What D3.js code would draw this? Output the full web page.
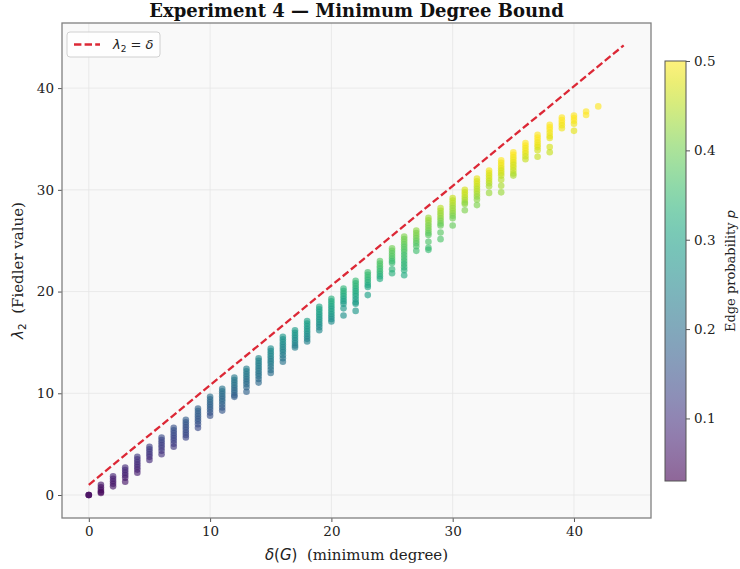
<!DOCTYPE html>
<html>
<head>
<meta charset="utf-8">
<script src="https://cdn.jsdelivr.net/npm/d3@7"></script>
<style>
  body { margin: 0; background: #fff; }
  text { font-family: "DejaVu Serif", serif; }
  .math { font-family: "DejaVu Sans", sans-serif; font-style: italic; }
</style>
</head>
<body>
<div id="chart"></div>
<script>
// minimum degree of each column
const minDegree = [0, 1, 2, 3, 4, 5, 6, 7, 8, 9, 10, 11, 12, 13, 14, 15, 16, 17, 18, 19, 20,
  21, 22, 23, 24, 25, 26, 27, 28, 29, 30, 31, 32, 33, 34, 35, 36, 37, 38, 39, 40, 41, 42];

// lambda_2 values per column
const fiedler = [
  [0, 0, 0],
  [1.0, 0.75, 0.5, 0.3, 0.2],
  [1.85, 1.6, 1.35, 1.1, 0.85],
  [2.7, 2.45, 2.2, 1.95, 1.7, 1.3],
  [3.75, 3.5, 3.25, 3.0, 2.75, 2.5, 2.2],
  [4.75, 4.5, 4.25, 4.0, 3.75, 3.45],
  [5.65, 5.4, 5.15, 4.9, 4.65, 4.35, 4.0],
  [6.6, 6.35, 6.1, 5.85, 5.6, 5.35, 5.05, 4.75],
  [7.4, 7.15, 6.9, 6.65, 6.4, 6.15, 5.9, 5.65],
  [8.5, 8.25, 8.0, 7.75, 7.5, 7.25, 6.95, 6.6],
  [9.65, 9.4, 9.15, 8.9, 8.65, 8.4, 8.1, 7.8],
  [10.45, 10.2, 9.95, 9.7, 9.45, 9.2, 8.9, 8.6, 8.3],
  [11.55, 11.3, 11.05, 10.8, 10.55, 10.3, 10.05, 9.8, 9.65],
  [12.4, 12.15, 11.9, 11.65, 11.4, 11.15, 10.9, 10.6, 10.15],
  [13.45, 13.2, 12.95, 12.7, 12.45, 12.2, 11.95, 11.7, 11.4, 11.05],
  [14.4, 14.15, 13.9, 13.65, 13.4, 13.15, 12.9, 12.6, 12.3, 12.0],
  [15.55, 15.3, 15.05, 14.8, 14.55, 14.3, 14.05, 13.75, 13.45, 13.1],
  [16.2, 15.95, 15.7, 15.45, 15.2, 14.95, 14.7, 14.5],
  [17.1, 16.85, 16.6, 16.35, 16.1, 15.85, 15.6, 15.35, 15.1],
  [18.5, 18.25, 18.0, 17.75, 17.5, 17.25, 17.0, 16.75, 16.5, 16.2],
  [19.3, 19.05, 18.8, 18.55, 18.3, 18.05, 17.8, 17.55, 17.3, 17.05],
  [20.3, 20.05, 19.8, 19.55, 19.3, 19.05, 18.8, 18.35, 17.65],
  [21.05, 20.8, 20.55, 20.3, 20.05, 19.8, 19.55, 19.25, 18.95, 18.8, 18.1],
  [21.9, 21.65, 21.4, 21.15, 20.9, 20.65, 20.45, 19.65],
  [23.0, 22.75, 22.5, 22.25, 22.0, 21.75, 21.5, 21.25],
  [24.25, 24.0, 23.75, 23.5, 23.25, 23.0, 22.8, 22.2, 21.8],
  [25.4, 25.15, 24.9, 24.65, 24.4, 24.15, 23.9, 23.6, 23.3, 23.0, 22.7, 22.4, 22.1, 21.6],
  [26.0, 25.75, 25.5, 25.25, 25.0, 24.75, 24.45, 24.0],
  [27.25, 27.0, 26.75, 26.5, 26.25, 26.0, 25.75, 25.55, 24.9, 24.3, 24.1],
  [28.2, 27.95, 27.7, 27.45, 27.2, 26.95, 26.7, 26.5, 25.8, 25.15],
  [29.2, 28.95, 28.7, 28.45, 28.2, 27.95, 27.7, 27.45, 27.2, 26.5],
  [30.0, 29.75, 29.5, 29.25, 29.0, 28.75, 28.6, 28.0],
  [31.1, 30.85, 30.6, 30.35, 30.1, 29.85, 29.6, 29.35, 29.05, 28.5],
  [31.9, 31.65, 31.4, 31.15, 30.9, 30.65, 30.35, 29.7],
  [32.9, 32.65, 32.4, 32.15, 31.9, 31.65, 31.4, 31.0, 30.4, 29.75],
  [33.7, 33.45, 33.2, 32.95, 32.7, 32.45, 32.2, 31.9, 31.6, 31.4],
  [34.6, 34.35, 34.1, 33.85, 33.6, 33.3, 33.0],
  [35.4, 35.15, 34.9, 34.65, 34.4, 34.2, 33.9, 33.25],
  [36.4, 36.15, 35.9, 35.6, 35.3, 35.1, 34.2, 33.7],
  [37.1, 36.85, 36.6, 36.35, 36.05],
  [37.3, 37.05, 36.8, 36.5, 35.8],
  [37.7, 37.35],
  [38.2]
];

// edge probability p per point (same shape as fiedler)
const edgeProb = [
  [0.03, 0.04, 0.05],
  [0.06, 0.05, 0.05, 0.04, 0.04],
  [0.08, 0.07, 0.07, 0.06, 0.06],
  [0.09, 0.09, 0.08, 0.08, 0.07, 0.06],
  [0.11, 0.10, 0.10, 0.09, 0.09, 0.08, 0.07],
  [0.12, 0.12, 0.11, 0.11, 0.10, 0.09],
  [0.14, 0.13, 0.13, 0.12, 0.12, 0.11, 0.10],
  [0.15, 0.15, 0.14, 0.14, 0.13, 0.13, 0.12, 0.11],
  [0.17, 0.16, 0.16, 0.15, 0.15, 0.14, 0.14, 0.13],
  [0.18, 0.18, 0.17, 0.17, 0.16, 0.16, 0.15, 0.14],
  [0.20, 0.19, 0.19, 0.18, 0.18, 0.17, 0.16, 0.15],
  [0.21, 0.21, 0.20, 0.20, 0.19, 0.19, 0.18, 0.17, 0.16],
  [0.22, 0.22, 0.21, 0.21, 0.20, 0.19, 0.19, 0.18, 0.17],
  [0.23, 0.23, 0.22, 0.22, 0.21, 0.20, 0.20, 0.19, 0.18],
  [0.25, 0.24, 0.24, 0.23, 0.23, 0.22, 0.21, 0.21, 0.20, 0.19],
  [0.26, 0.26, 0.25, 0.25, 0.24, 0.23, 0.23, 0.22, 0.21, 0.20],
  [0.28, 0.27, 0.27, 0.26, 0.25, 0.25, 0.24, 0.23, 0.22, 0.21],
  [0.29, 0.28, 0.28, 0.27, 0.26, 0.25, 0.24, 0.23],
  [0.30, 0.30, 0.29, 0.28, 0.28, 0.27, 0.26, 0.25, 0.24],
  [0.31, 0.31, 0.30, 0.30, 0.29, 0.28, 0.28, 0.27, 0.26, 0.25],
  [0.33, 0.32, 0.32, 0.31, 0.30, 0.30, 0.29, 0.28, 0.27, 0.26],
  [0.34, 0.33, 0.33, 0.32, 0.31, 0.30, 0.29, 0.28, 0.27],
  [0.35, 0.34, 0.34, 0.33, 0.32, 0.32, 0.31, 0.30, 0.29, 0.29, 0.28],
  [0.36, 0.35, 0.35, 0.34, 0.33, 0.32, 0.31, 0.30],
  [0.38, 0.37, 0.37, 0.36, 0.35, 0.34, 0.33, 0.32],
  [0.40, 0.39, 0.38, 0.38, 0.37, 0.36, 0.35, 0.34, 0.33],
  [0.41, 0.40, 0.40, 0.39, 0.38, 0.38, 0.37, 0.36, 0.36, 0.35, 0.34, 0.34, 0.33, 0.32],
  [0.42, 0.41, 0.41, 0.40, 0.39, 0.38, 0.37, 0.36],
  [0.43, 0.43, 0.42, 0.41, 0.41, 0.40, 0.39, 0.38, 0.37, 0.36, 0.35],
  [0.45, 0.44, 0.43, 0.43, 0.42, 0.41, 0.40, 0.39, 0.38, 0.37],
  [0.46, 0.45, 0.45, 0.44, 0.43, 0.43, 0.42, 0.41, 0.40, 0.39],
  [0.47, 0.46, 0.46, 0.45, 0.44, 0.43, 0.42, 0.41],
  [0.48, 0.47, 0.47, 0.46, 0.45, 0.45, 0.44, 0.43, 0.42, 0.41],
  [0.49, 0.48, 0.47, 0.47, 0.46, 0.45, 0.44, 0.43],
  [0.50, 0.49, 0.49, 0.48, 0.47, 0.47, 0.46, 0.45, 0.44, 0.43],
  [0.50, 0.50, 0.49, 0.49, 0.48, 0.47, 0.47, 0.46, 0.45, 0.44],
  [0.50, 0.50, 0.49, 0.49, 0.48, 0.47, 0.46],
  [0.50, 0.50, 0.50, 0.49, 0.49, 0.48, 0.47, 0.46],
  [0.50, 0.50, 0.50, 0.49, 0.49, 0.48, 0.47, 0.46],
  [0.50, 0.50, 0.50, 0.49, 0.49],
  [0.50, 0.50, 0.50, 0.49, 0.48],
  [0.50, 0.50],
  [0.50]
];

// dashed reference line (endpoints as drawn)
const boundX = [0, 44.1];
const boundY = [1.0, 44.2];

const xTicks = [0, 10, 20, 30, 40];
const yTicks = [0, 10, 20, 30, 40];
const cbTicks = [0.1, 0.2, 0.3, 0.4, 0.5];
const pRange = [0.03, 0.5];

const width = 740, height = 569;
const plot = { left: 62, right: 651, top: 23, bottom: 518 };
const alpha = 0.6;

const svg = d3.select("#chart").append("svg")
  .attr("width", width)
  .attr("height", height);

const x = d3.scaleLinear().domain([-2.21, 46.35]).range([plot.left, plot.right]);
const y = d3.scaleLinear().domain([-2.26, 46.4]).range([plot.bottom, plot.top]);
const color = d3.scaleSequential(d3.interpolateViridis).domain(pRange);

// background
svg.append("rect")
  .attr("x", plot.left).attr("y", plot.top)
  .attr("width", plot.right - plot.left).attr("height", plot.bottom - plot.top)
  .attr("fill", "#f9f9f9");

// grid
svg.append("g").selectAll("line").data(xTicks).join("line")
  .attr("x1", d => x(d)).attr("x2", d => x(d))
  .attr("y1", plot.top).attr("y2", plot.bottom)
  .attr("stroke", "#e6e6e6").attr("stroke-width", 0.8);
svg.append("g").selectAll("line").data(yTicks).join("line")
  .attr("y1", d => y(d)).attr("y2", d => y(d))
  .attr("x1", plot.left).attr("x2", plot.right)
  .attr("stroke", "#e6e6e6").attr("stroke-width", 0.8);

// points
const points = [];
minDegree.forEach((d, i) => {
  fiedler[i].forEach((v, j) => points.push({ delta: d, lam: v, p: edgeProb[i][j] }));
});

svg.append("g").selectAll("circle").data(points).join("circle")
  .attr("cx", d => x(d.delta))
  .attr("cy", d => y(d.lam))
  .attr("r", 3.3)
  .attr("fill", d => color(d.p))
  .attr("fill-opacity", 0.65);

// bound line
svg.append("line")
  .attr("x1", x(boundX[0])).attr("y1", y(boundY[0]))
  .attr("x2", x(boundX[1])).attr("y2", y(boundY[1]))
  .attr("stroke", "#dc2836")
  .attr("stroke-width", 2.3)
  .attr("stroke-dasharray", "7.4 3.2");

// axes
const xAxis = svg.append("g")
  .attr("transform", `translate(0,${plot.bottom})`)
  .call(d3.axisBottom(x).tickValues(xTicks).tickSize(4).tickPadding(4));
const yAxis = svg.append("g")
  .attr("transform", `translate(${plot.left},0)`)
  .call(d3.axisLeft(y).tickValues(yTicks).tickSize(4).tickPadding(4));
[xAxis, yAxis].forEach(a => {
  a.select(".domain").remove();
  a.selectAll(".tick line").attr("stroke", "#555");
  a.selectAll(".tick text")
    .attr("font-family", "DejaVu Serif")
    .attr("font-size", 13.5)
    .attr("fill", "#222");
});

// frame
svg.append("rect")
  .attr("x", plot.left).attr("y", plot.top)
  .attr("width", plot.right - plot.left).attr("height", plot.bottom - plot.top)
  .attr("fill", "none")
  .attr("stroke", "#808080")
  .attr("stroke-width", 1.3);

// title
svg.append("text")
  .attr("x", (plot.left + plot.right) / 2)
  .attr("y", 17)
  .attr("text-anchor", "middle")
  .attr("font-size", 18)
  .attr("font-weight", "bold")
  .attr("fill", "#111")
  .text("Experiment 4 — Minimum Degree Bound");

// x label
const xl = svg.append("text")
  .attr("x", (plot.left + plot.right) / 2)
  .attr("y", 560)
  .attr("text-anchor", "middle")
  .attr("font-size", 15)
  .attr("fill", "#222");
xl.append("tspan").attr("class", "math").text("δ");
xl.append("tspan").attr("font-family", "DejaVu Sans").text("(");
xl.append("tspan").attr("class", "math").text("G");
xl.append("tspan").attr("font-family", "DejaVu Sans").text(")");
xl.append("tspan").text("\u00a0\u00a0(minimum degree)");

// y label
const yl = svg.append("text")
  .attr("transform", `translate(23,${(plot.top + plot.bottom) / 2}) rotate(-90)`)
  .attr("text-anchor", "middle")
  .attr("font-size", 15)
  .attr("fill", "#222");
yl.append("tspan").attr("class", "math").text("λ");
yl.append("tspan").attr("font-family", "DejaVu Sans").attr("font-size", 10.5).attr("dy", 3).text("2");
yl.append("tspan").attr("dy", -3).text("\u00a0\u00a0(Fiedler value)");

// legend
const legend = svg.append("g").attr("transform", "translate(67,32)");
legend.append("rect")
  .attr("width", 93).attr("height", 25).attr("rx", 3)
  .attr("fill", "#fff").attr("fill-opacity", 0.85)
  .attr("stroke", "#d0d0d0");
legend.append("line")
  .attr("x1", 7).attr("x2", 33).attr("y1", 12.5).attr("y2", 12.5)
  .attr("stroke", "#dc2836").attr("stroke-width", 2.3)
  .attr("stroke-dasharray", "7.4 3.2");
const lt = legend.append("text")
  .attr("x", 46).attr("y", 17)
  .attr("font-size", 13)
  .attr("fill", "#222");
lt.append("tspan").attr("class", "math").text("λ");
lt.append("tspan").attr("font-family", "DejaVu Sans").attr("font-size", 9).attr("dy", 3).text("2");
lt.append("tspan").attr("font-family", "DejaVu Sans").attr("dy", -3).text(" = ");
lt.append("tspan").attr("class", "math").text("δ");

// colorbar
const cb = { x: 665, w: 21, top: 61, bottom: 481 };
const cy = d3.scaleLinear().domain(pRange).range([cb.bottom, cb.top]);
const defs = svg.append("defs");
const grad = defs.append("linearGradient")
  .attr("id", "cbgrad")
  .attr("x1", 0).attr("y1", 1).attr("x2", 0).attr("y2", 0);
d3.range(0, 1.0001, 0.05).forEach(t => {
  grad.append("stop")
    .attr("offset", t)
    .attr("stop-color", d3.interpolateViridis(t));
});
svg.append("rect")
  .attr("x", cb.x).attr("y", cb.top)
  .attr("width", cb.w).attr("height", cb.bottom - cb.top)
  .attr("fill", "url(#cbgrad)")
  .attr("fill-opacity", alpha);
svg.append("rect")
  .attr("x", cb.x).attr("y", cb.top)
  .attr("width", cb.w).attr("height", cb.bottom - cb.top)
  .attr("fill", "none")
  .attr("stroke", "#555").attr("stroke-width", 1);
const cbAxis = svg.append("g")
  .attr("transform", `translate(${cb.x + cb.w},0)`)
  .call(d3.axisRight(cy).tickValues(cbTicks).tickFormat(d3.format(".1f")).tickSize(4).tickPadding(4));
cbAxis.select(".domain").remove();
cbAxis.selectAll(".tick line").attr("stroke", "#555");
cbAxis.selectAll(".tick text")
  .attr("font-family", "DejaVu Serif")
  .attr("font-size", 13.5)
  .attr("fill", "#222");

const cl = svg.append("text")
  .attr("transform", `translate(735,${(cb.top + cb.bottom) / 2}) rotate(-90)`)
  .attr("text-anchor", "middle")
  .attr("font-size", 13)
  .attr("fill", "#222");
cl.append("tspan").text("Edge probability ");
cl.append("tspan").attr("class", "math").text("p");
</script>
</body>
</html>
